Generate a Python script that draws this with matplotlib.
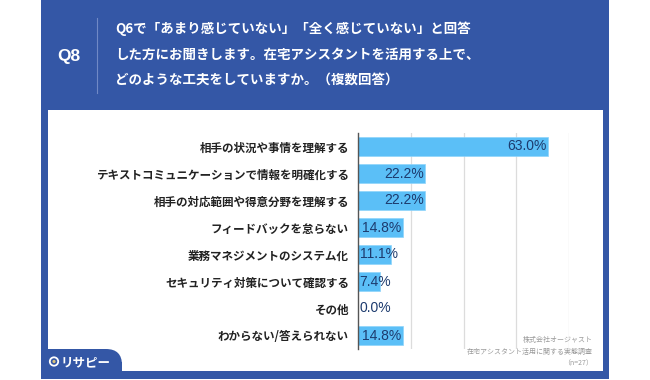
import matplotlib
matplotlib.use("Agg")
import matplotlib.pyplot as plt
from matplotlib.patches import Rectangle, FancyBboxPatch, Circle

plt.rcParams['font.family'] = ['Noto Sans CJK JP', 'DejaVu Sans']

# data
categories = ['相手の状況や事情を理解する',
              'テキストコミュニケーションで情報を明確化する',
              '相手の対応範囲や得意分野を理解する',
              'フィードバックを怠らない',
              '業務マネジメントのシステム化',
              'セキュリティ対策について確認する',
              'その他',
              'わからない/答えられない']
values = [63.0, 22.2, 22.2, 14.8, 11.1, 7.4, 0.0, 14.8]
q_label = 'Q8'
question_lines = ['Q6で「あまり感じていない」「全く感じていない」と回答',
                  'した方にお聞きします。在宅アシスタントを活用する上で、',
                  'どのような工夫をしていますか。（複数回答）']
source_lines = ['株式会社オージャスト', '在宅アシスタント活用に関する実態調査', '（n=27）']
grid_ticks = [17.5, 35, 52.5, 70]

W, H = 650, 380
blue = '#3457a6'
bar_col = '#5bbff7'
lab_col = '#1d3b6e'
num_font = ['Liberation Sans', 'DejaVu Sans']

fig = plt.figure(figsize=(W / 100, H / 100), dpi=100)
fig.patch.set_facecolor('white')

# background frame, drawn in pixel coords
bg = fig.add_axes([0, 0, 1, 1])
bg.set_xlim(0, W)
bg.set_ylim(H, 0)
bg.axis('off')
bg.add_patch(Rectangle((41, -2), 568, 381, color=blue, lw=0))
bg.add_patch(Rectangle((48, 110), 555, 261, color='white', lw=0))
bg.add_patch(FancyBboxPatch((41, 349), 81, 30, boxstyle='round,pad=0,rounding_size=16',
                            color=blue, lw=0))
bg.add_patch(Rectangle((41, 349), 20, 30, color=blue, lw=0))
bg.add_patch(Rectangle((41, 362), 81, 17, color=blue, lw=0))
bg.plot([97, 97], [18, 93], color='#7089c6', lw=0.8)
bg.text(68.5, 57, q_label, color='white', fontsize=12.5, fontweight='bold',
        family=num_font, ha='center', va='center')
for i, line in enumerate(question_lines):
    bg.text(115, 29 + i * 25.5, line, color='white', fontsize=9.7, fontweight='bold',
            ha='left', va='center')
bg.add_patch(Circle((54, 361.5), 4.2, facecolor='none', edgecolor='white', lw=1.3))
bg.add_patch(Circle((54, 361.5), 1.6, color='#d9c27a', lw=0))
bg.text(61, 362.5, 'リサピー', color='white', fontsize=9, fontweight='bold',
        ha='left', va='center')
for i, line in enumerate(source_lines):
    bg.text(593, 340 + i * 11.5, line, color='#9a9a9a', fontsize=5, ha='right', va='center')

# chart
left, right, top, bottom = 358, 569, 133, 349
ax = fig.add_axes([left / W, 1 - bottom / H, (right - left) / W, (bottom - top) / H])
ax.set_facecolor('none')
y = list(range(len(categories)))
ax.barh(y, values, height=0.69, color=bar_col, edgecolor='#8fd4fb', lw=0.5, zorder=2)
ax.set_xlim(0, 70)
ax.set_ylim(len(categories) - 0.5, -0.5)
for g in grid_ticks:
    ax.axvline(g, color='#dcdcdc', lw=0.9, zorder=1)
for s in ['top', 'right', 'bottom']:
    ax.spines[s].set_visible(False)
ax.spines['left'].set_color('#555555')
ax.spines['left'].set_linewidth(1)
ax.spines['left'].set_zorder(3)
ax.set_xticks([])
ax.set_yticks(y)
ax.set_yticklabels(categories, fontsize=8.3, fontweight='bold', color='#222222')
ax.tick_params(axis='y', length=0, pad=6.5)
for yi, v in zip(y, values):
    txt = f'{v:.1f}%'
    if v >= 14:
        ax.text(v - 0.4, yi, txt, ha='right', va='center', fontsize=10,
                family=num_font, color=lab_col, zorder=4)
    else:
        ax.text(0.5, yi, txt, ha='left', va='center', fontsize=10,
                family=num_font, color=lab_col, zorder=4)

fig.savefig('out.png', dpi=100)
